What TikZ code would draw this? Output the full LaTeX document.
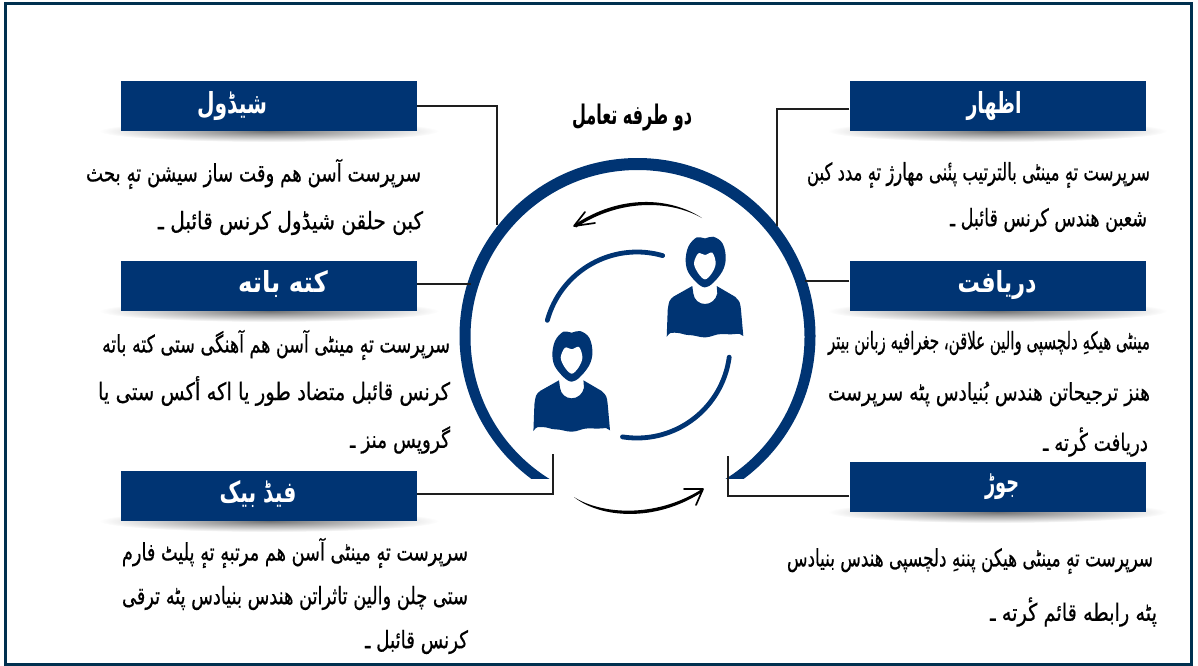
\documentclass[tikz,border=0pt]{standalone}
\usepackage{fontspec}
\usepackage{graphicx}
\TeXXeTstate=1
\newfontfamily\arabicfont[Script=Arabic,FakeBold=0.7]{DejaVu Sans}
\newfontfamily\arabicbold[Script=Arabic]{DejaVu Sans Bold}
\definecolor{navy}{HTML}{003473}
\definecolor{framec}{HTML}{00304F}
\definecolor{linec}{HTML}{1E1E1E}
\newcommand{\urline}[2]{\resizebox{#1pt}{\height}{\arabicfont\fontsize{24}{28}\selectfont #2}}
\newcommand{\urtitle}[3]{\resizebox{#1pt}{\height}{\arabicbold\fontsize{#2}{36}\selectfont #3}}
\tikzset{
  hdr/.style={fill=navy,minimum width=296pt,minimum height=50pt,inner sep=0pt,draw=none},
  titletext/.style={inner sep=0pt,text=white},
  bodyline/.style={inner sep=0pt,text=black},
  conn/.style={draw=linec,line width=1.7pt},
  glow/.style={inner color=black!55,outer color=white,draw=none},
  person/.pic={
    \fill[navy] plot[smooth cycle,tension=0.6] coordinates{(-19.3,0)(-16.7,-15)(-8.3,-24.3)(0,-23.3)(8.3,-25)(17.7,-18)(20.7,-1.7)(15,13.3)(0,25.7)(-15,13.3)};
    \fill[white] plot[smooth cycle,tension=0.55] coordinates{(0,-6.7)(7.3,-9)(10.7,1.7)(6.7,11.7)(0,17.7)(-6.7,11.7)(-11,1.7)(-6.7,-8.3)};
    \fill[navy] (-12.7,24.3) -- (-31.7,35) .. controls (-36,39) .. (-37.3,48.3) -- (-38.3,75)
      .. controls (-35,70) and (-33,71) .. (-30,71) .. controls (-24,71) and (-21,73.3) .. (-16.7,73.3)
      .. controls (-10,73.3) and (-6,75.7) .. (0,75.7) .. controls (6,75.7) and (10,72.3) .. (16.7,72.3)
      .. controls (22,72.3) and (25,73) .. (30,72.3) .. controls (33,71.5) and (36,72) .. (38.3,74.3)
      -- (36,48.3) .. controls (35,40) .. (30,35) -- (11.7,24.3) -- (12.3,31.7)
      .. controls (11,38) and (6,42.3) .. (0,42.3) .. controls (-6,42.3) and (-11,38) .. (-11.7,31.7) -- cycle;
  }
}
\begin{document}
\begin{tikzpicture}[x=1pt,y=-1pt]
\useasboundingbox (0,0) rectangle (1198,665);
\draw[framec,line width=3pt] (5.5,3.5) rectangle (1191.5,664);

% big ring
\begin{scope}
\clip (440,140) rectangle (840,478);
\fill[navy,even odd rule] (637.5,336) circle[radius=178] (637.5,337) circle[radius=167];
\end{scope}

% connector end points on the ring
\coordinate (l1end) at (496.7,225);
\coordinate (l2end) at (471,284);
\coordinate (l3end) at (553,454);
\coordinate (r1end) at (777,226);
\coordinate (r2end) at (805,281);
\coordinate (r3end) at (727.7,456);

% shadows
\shade[glow] (269,131) ellipse[x radius=170,y radius=11];
\shade[glow] (269,311) ellipse[x radius=170,y radius=11];
\shade[glow] (269,521) ellipse[x radius=170,y radius=11];
\shade[glow] (997.5,131) ellipse[x radius=170,y radius=11];
\shade[glow] (997.5,311) ellipse[x radius=170,y radius=11];
\shade[glow] (997.5,512) ellipse[x radius=170,y radius=11];

% header boxes
\node[hdr] (boxa) at (269,106) {};
\node[hdr] (boxb) at (269,286) {};
\node[hdr] (boxc) at (269,496) {};
\node[hdr] (boxd) at (997.5,106) {};
\node[hdr] (boxe) at (997.5,286) {};
\node[hdr] (boxf) at (997.5,487) {};

% connectors
\draw[conn] (boxa.east) -| (l1end);
\draw[conn] (boxb.east |- l2end) -- (l2end);
\draw[conn] ([yshift=2pt]boxc.east) -| (l3end);
\draw[conn] ([yshift=-3pt]boxd.west) -| (r1end);
\draw[conn] (boxe.west |- r2end) -- (r2end);
\draw[conn] ([yshift=-9pt]boxf.west) -| (r3end);

% titles
\node[titletext] (ta) at (232,106) {\urtitle{70}{29}{\beginR شیڈول\endR}};
\node[titletext] (tb) at (283,284) {\urtitle{90}{29}{\beginR کته باته\endR}};
\node[titletext] (tc) at (258,494) {\urtitle{77}{29}{\beginR فیڈ بیک\endR}};
\node[titletext] (td) at (994,106) {\urtitle{55}{29}{\beginR اظهار\endR}};
\node[titletext] (te) at (997,285) {\urtitle{79}{29}{\beginR دریافت\endR}};
\node[titletext] (tf) at (1002,487) {\urtitle{34}{29}{\beginR جوڑ\endR}};
\node[inner sep=0pt] (tcenter) at (632,118) {\urtitle{120}{27}{\beginR دو طرفه تعامل\endR}};

% body text, left
\node[bodyline] (a1) at (253.5,174) {\urline{335}{\beginR سرپرست آسن هم وقت ساز سیشن تهٕ بحث\endR}};
\node[bodyline] (a2) at (290.5,223) {\urline{265}{\beginR کبن حلقن شیڈول کرنس قائبل ـ\endR}};
\node[bodyline] (b1) at (276,345) {\urline{348}{\beginR سرپرست تهٕ مینٹی آسن هم آهنگی ستی کته باته\endR}};
\node[bodyline] (b2) at (274,391) {\urline{352}{\beginR کرنس قائبل متضاد طور یا اکه أکس ستی یا\endR}};
\node[bodyline] (b3) at (400,440) {\urline{100}{\beginR گروپس منز ـ\endR}};
\node[bodyline] (c1) at (295,553) {\urline{346}{\beginR سرپرست تهٕ مینٹی آسن هم مرتبهٕ تهٕ پلیٹ فارم\endR}};
\node[bodyline] (c2) at (295,598) {\urline{346}{\beginR ستی چلن والین تاثراتن هندس بنیادس پٹه ترقی\endR}};
\node[bodyline] (c3) at (416.5,642) {\urline{103}{\beginR کرنس قائبل ـ\endR}};

% body text, right
\node[bodyline] (d1) at (978.5,175) {\urline{343}{\beginR سرپرست تهٕ مینٹی بالترتیب پنٔنی مهارژ تهٕ مدد کبن\endR}};
\node[bodyline] (d2) at (1048.5,220) {\urline{197}{\beginR شعبن هندس کرنس قائبل ـ\endR}};
\node[bodyline] (e1) at (989,343) {\urline{322}{\beginR مینٹی هیکهِ دلچسپی والین علاقن، جغرافیه زبانن بیتر\endR}};
\node[bodyline] (e2) at (989,394) {\urline{322}{\beginR هنز ترجیحاتن هندس بُنیادس پٹه سرپرست\endR}};
\node[bodyline] (e3) at (1095.5,442) {\urline{105}{\beginR دریافت کٔرته ـ\endR}};
\node[bodyline] (f1) at (970,561) {\urline{366}{\beginR سرپرست تهٕ مینٹی هیکن پننهِ دلچسپی هندس بنیادس\endR}};
\node[bodyline] (f2) at (1073.5,612) {\urline{167}{\beginR پٹه رابطه قائم کٔرته ـ\endR}};

% inner arcs
\draw[navy,line width=4.8pt,line cap=round] plot[domain=195.4:286,samples=50] ({637+93*cos(\x)},{345+93*sin(\x)});
\draw[navy,line width=4.8pt,line cap=round] plot[domain=7.5:99,samples=50] ({637+93*cos(\x)},{345+93*sin(\x)});

% people
\pic at (705,261.7) {person};
\pic at (571.7,356) {person};

% black arrows
\fill[black] (702,218) .. controls (670,197) and (620,194) .. (574,225) -- (576,227.5) .. controls (620,198.5) and (670,200) .. cycle;
\draw[black,line width=1.7pt,line cap=round,line join=round] (585,212) -- (574,226) -- (595,223);
\fill[black] (574,497) .. controls (600,514) and (655,519) .. (702,489) -- (703,491.5) .. controls (655,523) and (600,518) .. cycle;
\draw[black,line width=1.7pt,line cap=round,line join=round] (684,489) -- (703,489) -- (696,505);
\end{tikzpicture}
\end{document}
